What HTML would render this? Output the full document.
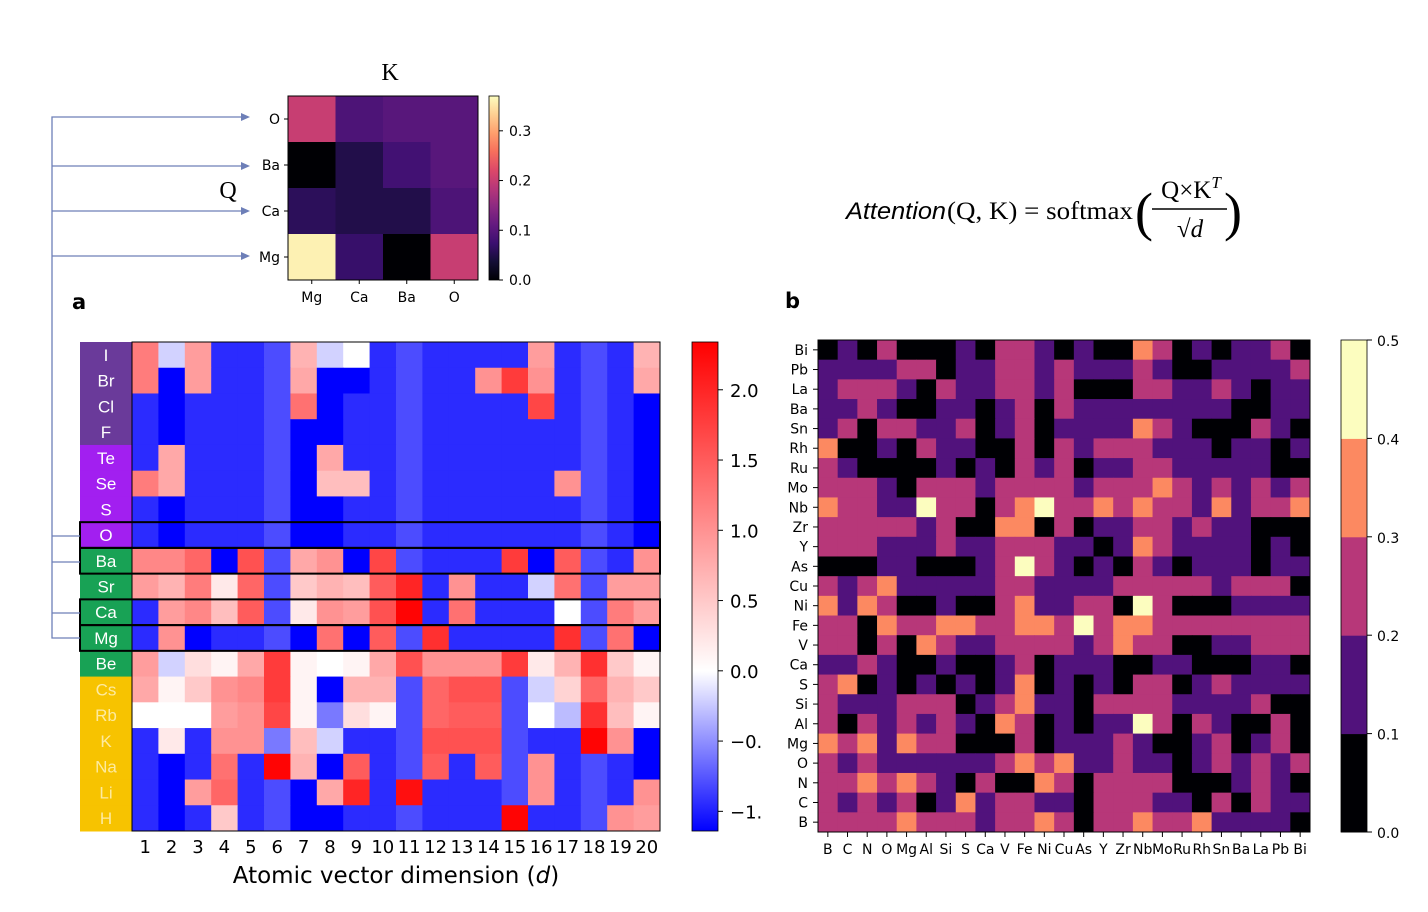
<!DOCTYPE html>
<html><head><meta charset="utf-8"><style>
html,body{margin:0;padding:0;background:#fff;}
svg{display:block;font-family:"DejaVu Sans","Liberation Sans",sans-serif;}
</style></head><body>
<svg id="fig" width="1428" height="912" viewBox="0 0 1428 912" xmlns="http://www.w3.org/2000/svg">
<g id="gSmall"></g>
<g id="gA"></g>
<g id="gB"></g>
<g id="gStatic">
  <text x="72" y="309" font-size="21" font-weight="bold">a</text>
  <text x="785" y="308" font-size="21" font-weight="bold">b</text>
  <text x="390" y="80" font-size="24" text-anchor="middle" font-family="Liberation Serif,serif">K</text>
  <text x="228" y="198" font-size="24" text-anchor="middle" font-family="Liberation Serif,serif">Q</text>
  <g font-family="Liberation Serif,serif">
    <text x="846" y="219" font-size="24" font-style="italic" font-family="Liberation Sans,sans-serif" textLength="100" lengthAdjust="spacingAndGlyphs">Attention</text>
    <text x="947" y="219" font-size="25" textLength="186" lengthAdjust="spacingAndGlyphs">(Q, K) = softmax</text>
    <text x="1135" y="230" font-size="54" font-weight="100">(</text>
    <text x="1191" y="198" font-size="25" text-anchor="middle">Q×K<tspan font-style="italic" font-size="17" dy="-10">T</tspan></text>
    <line x1="1152" y1="209" x2="1227" y2="209" stroke="#000" stroke-width="1.6"/>
    <text x="1190" y="237" font-size="25" text-anchor="middle">√<tspan font-style="italic">d</tspan></text>
    <text x="1224" y="230" font-size="54">)</text>
  </g>
  <g stroke="#6d7fb8" stroke-width="1.3" fill="none">
    <polyline points="248,117 52,117 52,638 80,638"/>
    <line x1="52" y1="166" x2="248" y2="166"/>
    <line x1="52" y1="211" x2="248" y2="211"/>
    <line x1="52" y1="256" x2="248" y2="256"/>
    <line x1="52" y1="536" x2="80" y2="536"/>
    <line x1="52" y1="562" x2="80" y2="562"/>
    <line x1="52" y1="613" x2="80" y2="613"/>
  </g>
  <g fill="#6d7fb8">
    <polygon points="241,113 250,117 241,121"/>
    <polygon points="241,162 250,166 241,170"/>
    <polygon points="241,207 250,211 241,215"/>
    <polygon points="241,252 250,256 241,260"/>
  </g>
  <text x="396" y="883" font-size="23" text-anchor="middle">Atomic vector dimension (<tspan font-style="italic">d</tspan>)</text>
</g>
<defs>
  <linearGradient id="gradA" x1="0" y1="1" x2="0" y2="0">
    <stop offset="0" stop-color="#0000ff"/>
    <stop offset="0.327" stop-color="#ffffff"/>
    <stop offset="1" stop-color="#ff0000"/>
  </linearGradient>
  <linearGradient id="gradS" x1="0" y1="1" x2="0" y2="0">
    <stop offset="0" stop-color="#000004"/><stop offset="0.1" stop-color="#140e36"/><stop offset="0.2" stop-color="#3b0f70"/>
    <stop offset="0.3" stop-color="#641a80"/><stop offset="0.4" stop-color="#8c2981"/><stop offset="0.5" stop-color="#b73779"/>
    <stop offset="0.6" stop-color="#de4968"/><stop offset="0.7" stop-color="#f7705c"/><stop offset="0.8" stop-color="#fe9f6d"/>
    <stop offset="0.9" stop-color="#fecf92"/><stop offset="1" stop-color="#fcfdbf"/>
  </linearGradient>
</defs>
</svg>
<script>
const NS="http://www.w3.org/2000/svg";
// ---- small heatmap data ----
const smallRows=["O","Ba","Ca","Mg"];
const smallCols=["Mg","Ca","Ba","O"];
const smallVals=[[0.2,0.09,0.1,0.1],[0.0,0.05,0.08,0.1],[0.06,0.05,0.05,0.09],[0.36,0.07,0.0,0.2]];
const smallTicks=[0.0,0.1,0.2,0.3];
// ---- panel a data ----
const aRows=["I","Br","Cl","F","Te","Se","S","O","Ba","Sr","Ca","Mg","Be","Cs","Rb","K","Na","Li","H"];
const aGroups=["hal","hal","hal","hal","chal","chal","chal","chal","ae","ae","ae","ae","ae","alk","alk","alk","alk","alk","alk"];
const aCols=[1,2,3,4,5,6,7,8,9,10,11,12,13,14,15,16,17,18,19,20];
const aTicks=[2.0,1.5,1.0,0.5,0.0,-0.5,-1.0];
const aTickLabels=["2.0","1.5","1.0","0.5","0.0","\u22120.","\u22121."];
const B=-1.14,b=-0.95,m=-0.8;
const aVals=[
[1.2,-0.2,0.9,b,b,m,0.7,-0.2,0.0,b,m,b,b,b,b,0.9,b,m,b,0.7],
[1.2,B,0.9,b,b,m,0.8,B,B,b,m,b,b,1.0,1.8,1.0,b,m,b,0.8],
[b,B,b,b,b,m,1.3,B,b,b,m,b,b,b,b,1.7,b,m,b,B],
[b,B,b,b,b,m,B,B,b,b,m,b,b,b,b,b,b,m,b,B],
[b,0.8,b,b,b,m,B,0.8,b,b,m,b,b,b,b,b,b,m,b,B],
[1.2,0.8,b,b,b,m,B,0.6,0.6,b,m,b,b,b,b,b,1.0,m,b,B],
[b,B,b,b,b,m,B,B,b,b,m,b,b,b,b,b,b,m,b,B],
[b,B,b,b,b,m,B,B,b,b,m,b,b,b,b,b,b,m,b,B],
[1.1,1.1,1.4,B,1.6,m,0.8,1.0,B,1.7,m,b,b,b,1.8,B,1.5,m,b,1.0],
[0.9,0.7,1.2,0.2,1.4,m,0.5,0.7,0.6,1.5,2.0,b,1.0,b,b,-0.2,1.3,m,0.9,0.9],
[b,0.9,1.1,0.6,1.5,m,0.2,1.0,0.9,1.6,2.3,b,1.3,b,b,b,0.0,m,1.2,0.9],
[b,1.0,B,b,b,m,B,1.3,B,1.5,m,1.9,b,b,b,b,1.9,m,1.3,B],
[0.9,-0.2,0.3,0.1,0.8,1.8,0.1,0.0,0.1,0.8,1.6,1.0,1.0,1.0,1.8,0.2,0.7,1.9,0.5,0.1],
[0.8,0.1,0.5,1.0,1.1,1.8,0.1,B,0.7,0.7,m,1.4,1.6,1.6,m,-0.2,0.4,1.4,0.7,0.5],
[0.0,0.0,0.0,0.9,1.0,1.7,0.1,-0.6,0.3,0.1,m,1.4,1.5,1.5,m,0.0,-0.3,1.9,0.6,0.1],
[b,0.2,b,1.0,1.0,-0.6,0.6,-0.2,b,b,m,1.6,1.6,1.6,m,b,b,2.3,1.0,B],
[b,B,b,1.3,b,2.3,0.7,B,1.5,b,m,1.5,b,1.5,m,1.0,b,m,b,B],
[b,B,0.9,1.4,b,m,B,0.8,2.0,b,2.2,b,b,b,m,1.0,b,m,b,1.0],
[b,B,b,0.5,b,m,B,B,b,b,m,b,b,b,2.3,b,b,m,1.0,0.9]];
// ---- panel b data ----
const bRows=["Bi","Pb","La","Ba","Sn","Rh","Ru","Mo","Nb","Zr","Y","As","Cu","Ni","Fe","V","Ca","S","Si","Al","Mg","O","N","C","B"];
const bCols=["B","C","N","O","Mg","Al","Si","S","Ca","V","Fe","Ni","Cu","As","Y","Zr","Nb","Mo","Ru","Rh","Sn","Ba","La","Pb","Bi"];
const bTicks=[0.0,0.1,0.2,0.3,0.4,0.5];
const bLevels=[
"0102000102210100320101120","1111220112212111210011112","1222102112212000221121011","1121001101202111111110011",
"1202211201201111321000210","3001021100202122211101101","2100001010212011221111100","2221022212222122232121212",
"3221142202342232322131223","2222212003302011221211000","2221112112221101321111010","0001100012421010210111011",
"2123111112211112222212220","3132001002311220420001111","2203223322332423322222222","2202032112222123220011222",
"1121001001201110011000110","2301010101301010220121111","2111222012311022221111200","2021212103201011420210020",
"3231322000201112100120120","2121111112323112110121212","2232321020032022220001210","2121201312211022211020211",
"2222322212232022322311110"].map(s=>s.split("").map(Number));
const bVals=bLevels.map(r=>r.map(l=>l*0.1+0.05));

function el(tag,attrs,parent){const e=document.createElementNS(NS,tag);for(const k in attrs)e.setAttribute(k,attrs[k]);parent.appendChild(e);return e;}
function mix(c1,c2,t){return "rgb("+c1.map((v,i)=>Math.round(v+(c2[i]-v)*t)).join(",")+")";}
const magma=[[0,0,4],[20,14,54],[59,15,112],[100,26,128],[140,41,129],[183,55,121],[222,73,104],[247,112,92],[254,159,109],[254,207,146],[252,253,191]];
function magmaColor(t){t=Math.max(0,Math.min(1,t));const p=t*10,i=Math.min(9,Math.floor(p));return mix(magma[i],magma[i+1],p-i);}
function bwr(v){if(v<0){const t=Math.min(1,v/-1.14);return mix([255,255,255],[0,0,255],t);}const t=Math.min(1,v/2.34);return mix([255,255,255],[255,0,0],t);}

// ===== small heatmap =====
(function(){
const g=document.getElementById("gSmall");
const x0=288,y0=96,w=190,h=184,cw=w/4,ch=h/4,vmax=0.37;
const sx=i=>x0+i*cw, sy=j=>y0+j*ch;
smallVals.forEach((row,j)=>row.forEach((v,i)=>{
  const r=el("rect",{x:sx(i),y:sy(j),width:cw+0.5,height:ch+0.5,fill:magmaColor(v/vmax)},g);
  
  
}));
el("rect",{x:x0,y:y0,width:w,height:h,fill:"none",stroke:"#000","stroke-width":1},g);
smallRows.forEach((n,j)=>{
  const t=el("text",{x:x0-8,y:sy(j)+ch/2+5,"font-size":14,"text-anchor":"end"},g);t.textContent=n;
  
  
  el("line",{x1:x0-4,x2:x0,y1:sy(j)+ch/2,y2:sy(j)+ch/2,stroke:"#000"},g);
});
smallCols.forEach((n,i)=>{
  const t=el("text",{x:sx(i)+cw/2,y:y0+h+22,"font-size":14,"text-anchor":"middle"},g);t.textContent=n;
  
  
  el("line",{x1:sx(i)+cw/2,x2:sx(i)+cw/2,y1:y0+h,y2:y0+h+4,stroke:"#000"},g);
});
const cb=el("rect",{x:489,y:y0,width:10,height:h,fill:"url(#gradS)",stroke:"#000","stroke-width":0.8},g);


smallTicks.forEach(v=>{
  const y=y0+h-v/vmax*h;
  el("line",{x1:499,x2:503,y1:y,y2:y,stroke:"#000"},g);
  const t=el("text",{x:509,y:y+5,"font-size":14},g);t.textContent=v.toFixed(1);
  
  
});
})();

// ===== panel a =====
(function(){
const g=document.getElementById("gA");
const x0=132,y0=342,w=528,h=489,cw=w/20,ch=h/19;
const ax=i=>x0+i*cw, ay=j=>y0+j*ch;
aVals.forEach((row,j)=>row.forEach((v,i)=>{
  const r=el("rect",{x:ax(i),y:ay(j),width:cw+0.5,height:ch+0.5,fill:bwr(v)},g);
  
  
}));
const gc={hal:"#6a3a9a",chal:"#a21ff0",ae:"#18a255",alk:"#f7c300"};
const tc={hal:"#fff",chal:"#fff",ae:"#fff",alk:"#fdeaa0"};
aRows.forEach((n,j)=>{
  const r=el("rect",{x:80,y:ay(j),width:52,height:ch+0.5,fill:gc[aGroups[j]]},g);
  
  
  const t=el("text",{x:106,y:ay(j)+ch/2+6,"font-size":17,"text-anchor":"middle",fill:tc[aGroups[j]],"font-family":"Liberation Sans,sans-serif"},g);t.textContent=n;
  
  
});
el("rect",{x:x0,y:y0,width:w,height:h,fill:"none",stroke:"#000","stroke-width":1},g);
["O","Ba","Ca","Mg"].forEach(n=>{
  const j=aRows.indexOf(n);
  const r=el("rect",{x:80,y:ay(j),width:w+52,height:ch,fill:"none",stroke:"#000","stroke-width":2},g);
  
  
});
aCols.forEach((c,i)=>{
  const t=el("text",{x:ax(i)+cw/2,y:853,"font-size":18,"text-anchor":"middle"},g);t.textContent=c;
  
  
});
const cb=el("rect",{x:692,y:y0,width:26,height:h,fill:"url(#gradA)",stroke:"#000","stroke-width":0.8},g);


const vmin=-1.14,vmax=2.34;
aTicks.forEach((v,k)=>{
  const y=y0+h-(v-vmin)/(vmax-vmin)*h;
  el("line",{x1:718,x2:723,y1:y,y2:y,stroke:"#000"},g);
  const t=el("text",{x:730,y:y+7,"font-size":18},g);t.textContent=aTickLabels[k];
  
  
});
})();

// ===== panel b =====
(function(){
const g=document.getElementById("gB");
const x0=818,y0=340,w=492,h=492,cw=w/25,ch=h/25;
const bx=i=>x0+i*cw, by=j=>y0+j*ch;
const cols=["#000004","#51127c","#b73779","#fc8961","#fcfdbf"];
const vmax=0.5;
bVals.forEach((row,j)=>row.forEach((v,i)=>{
  const r=el("rect",{x:bx(i),y:by(j),width:cw+0.5,height:ch+0.5,fill:cols[Math.min(4,Math.floor(v/0.1))]},g);
  
  
}));
el("rect",{x:x0,y:y0,width:w,height:h,fill:"none",stroke:"#000","stroke-width":1},g);
bRows.forEach((n,j)=>{
  const t=el("text",{x:x0-10,y:by(j)+ch/2+5,"font-size":14,"text-anchor":"end"},g);t.textContent=n;
  
  
  el("line",{x1:x0-5,x2:x0,y1:by(j)+ch/2,y2:by(j)+ch/2,stroke:"#000"},g);
});
bCols.forEach((n,i)=>{
  const t=el("text",{x:bx(i)+cw/2,y:y0+h+22,"font-size":14,"text-anchor":"middle"},g);t.textContent=n;
  
  
  el("line",{x1:bx(i)+cw/2,x2:bx(i)+cw/2,y1:y0+h,y2:y0+h+5,stroke:"#000"},g);
});
for(let k=0;k<5;k++){
  const r=el("rect",{x:1341,y:y0+h-(k+1)*0.1/vmax*h,width:26,height:0.1/vmax*h+0.5,fill:cols[k]},g);
  
  
}
el("rect",{x:1341,y:y0,width:26,height:h,fill:"none",stroke:"#000","stroke-width":0.8},g);
bTicks.forEach(v=>{
  const y=y0+h-v/vmax*h;
  el("line",{x1:1367,x2:1372,y1:y,y2:y,stroke:"#000"},g);
  const t=el("text",{x:1377,y:y+6,"font-size":14},g);t.textContent=v.toFixed(1);
  
  
});
})();
</script>
</body></html>
